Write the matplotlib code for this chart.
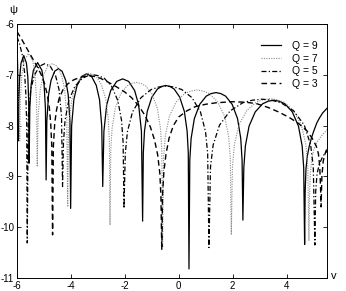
import matplotlib
matplotlib.use("Agg")
import matplotlib.pyplot as plt

plt.rcParams['font.family'] = ['Liberation Sans', 'DejaVu Sans']
plt.rcParams['axes.unicode_minus'] = False

# ---- data: (v, psi) points per series ----
v_q9 = [-6.0, -5.98, -5.965, -5.95,
        -5.934, -5.902, -5.85, -5.75, -5.65, -5.598, -5.566, -5.55,
        -5.525, -5.474, -5.392, -5.235, -5.078, -4.996, -4.945, -4.92,
        -4.893, -4.829, -4.738, -4.6015, -4.465, -4.3285, -4.192, -4.101, -4.037, -4.01,
        -3.974, -3.891, -3.772, -3.594, -3.415, -3.236, -3.058, -2.939, -2.856, -2.82,
        -2.776, -2.672, -2.524, -2.302, -2.08, -1.858, -1.636, -1.488, -1.384, -1.34,
        -1.314, -1.271, -1.168, -0.996, -0.790, -0.635, -0.48, -0.325, -0.170, 0.036, 0.208, 0.311, 0.354, 0.38,
        0.41, 0.46, 0.58, 0.78, 1.02, 1.20, 1.38, 1.56, 1.74, 1.98, 2.18, 2.30, 2.35, 2.38,
        2.414, 2.472, 2.609, 2.838, 3.113, 3.319, 3.525, 3.731, 3.937, 4.212, 4.441, 4.578, 4.636, 4.67,
        4.69, 4.72, 4.77, 4.84, 4.92, 5.0, 5.12, 5.22, 5.34, 5.5]
p_q9 = [-6.3, -6.8, -7.5, -8.3,
        -7.52, -7.05, -6.77, -6.62, -6.77, -7.05, -7.52, -8.74,
        -7.66, -7.19, -6.91, -6.76, -6.91, -7.19, -7.66, -9.07,
        -7.91, -7.39, -7.11, -6.93, -6.88, -6.93, -7.11, -7.39, -7.91, -9.63,
        -8.01, -7.49, -7.21, -7.03, -6.98, -7.03, -7.21, -7.49, -8.01, -9.2,
        -8.11, -7.59, -7.31, -7.13, -7.08, -7.13, -7.31, -7.59, -8.11, -9.88,
        -8.54, -8.11, -7.72, -7.44, -7.28, -7.23, -7.21, -7.23, -7.28, -7.44, -7.72, -8.11, -8.54, -10.82,
        -8.68, -8.25, -7.86, -7.58, -7.42, -7.37, -7.35, -7.37, -7.42, -7.58, -7.86, -8.25, -8.68, -9.86,
        -8.83, -8.40, -8.01, -7.73, -7.57, -7.52, -7.50, -7.52, -7.57, -7.73, -8.01, -8.40, -8.83, -10.34,
        -9.3, -8.85, -8.6, -8.41, -8.25, -8.12, -7.95, -7.85, -7.75, -7.66]

v_q7 = [-6.0, -5.95, -5.9,
        -5.874, -5.822, -5.7375, -5.575, -5.4125, -5.328, -5.276, -5.25,
        -5.216, -5.137, -5.024, -4.8545, -4.685, -4.5155, -4.346, -4.233, -4.154, -4.12,
        -4.096, -4.057, -3.963, -3.806, -3.618, -3.476, -3.335, -3.194, -3.052, -2.864, -2.707, -2.613, -2.574, -2.55,
        -2.521, -2.472, -2.355, -2.16, -1.926, -1.750, -1.575, -1.400, -1.224, -0.99, -0.795, -0.678, -0.629, -0.6,
        -0.562, -0.498, -0.345, -0.09, 0.216, 0.446, 0.675, 0.905, 1.134, 1.44, 1.695, 1.848, 1.912, 1.95,
        1.993, 2.065, 2.238, 2.526, 2.872, 3.131, 3.39, 3.649, 3.908, 4.254, 4.542, 4.715, 4.787, 4.83,
        4.85, 4.88, 4.94, 5.02, 5.12, 5.3, 5.5]
p_q7 = [-6.6, -6.9, -8.3,
        -7.48, -7.01, -6.73, -6.58, -6.73, -7.01, -7.48, -8.81,
        -7.81, -7.29, -7.01, -6.83, -6.78, -6.83, -7.01, -7.29, -7.81, -9.6,
        -8.30, -7.87, -7.48, -7.20, -7.04, -6.99, -6.97, -6.99, -7.04, -7.20, -7.48, -7.87, -8.30, -9.96,
        -8.48, -8.05, -7.66, -7.38, -7.22, -7.17, -7.15, -7.17, -7.22, -7.38, -7.66, -8.05, -8.48, -10.4,
        -8.63, -8.20, -7.81, -7.53, -7.37, -7.32, -7.30, -7.32, -7.37, -7.53, -7.81, -8.20, -8.63, -10.15,
        -8.80, -8.37, -7.98, -7.70, -7.54, -7.49, -7.47, -7.49, -7.54, -7.70, -7.98, -8.37, -8.80, -10.27,
        -9.4, -8.95, -8.65, -8.45, -8.33, -8.2, -8.08]

v_q5 = [-6.0, -5.9, -5.8, -5.72, -5.67, -5.64, -5.62,
        -5.581, -5.489, -5.358, -5.1615, -4.965, -4.7685, -4.572, -4.441, -4.349, -4.31,
        -4.276, -4.219, -4.082, -3.854, -3.580, -3.375, -3.17, -2.965, -2.760, -2.486, -2.258, -2.121, -2.064, -2.03,
        -1.983, -1.904, -1.715, -1.40, -1.022, -0.739, -0.455, -0.172, 0.112, 0.49, 0.805, 0.994, 1.073, 1.12,
        1.179, 1.277, 1.513, 1.906, 2.378, 2.731, 3.085, 3.439, 3.792, 4.264, 4.657, 4.893, 4.991, 5.05,
        5.08, 5.13, 5.22, 5.35, 5.5]
p_q5 = [-6.25, -6.4, -6.62, -6.95, -7.4, -8.0, -10.31,
        -7.81, -7.29, -7.01, -6.83, -6.78, -6.83, -7.01, -7.29, -7.81, -9.2,
        -8.33, -7.90, -7.51, -7.23, -7.07, -7.02, -7.0, -7.02, -7.07, -7.23, -7.51, -7.90, -8.33, -9.63,
        -8.55, -8.12, -7.73, -7.45, -7.29, -7.24, -7.22, -7.24, -7.29, -7.45, -7.73, -8.12, -8.55, -10.4,
        -8.81, -8.38, -7.99, -7.71, -7.55, -7.50, -7.48, -7.50, -7.55, -7.71, -7.99, -8.38, -8.81, -10.35,
        -9.3, -8.95, -8.75, -8.6, -8.5]

v_q3 = [-6.0, -5.85, -5.7, -5.55, -5.4, -5.25, -5.1, -4.98, -4.88, -4.8, -4.75, -4.71, -4.68,
        -4.65, -4.6, -4.53, -4.44, -4.3, -4.12, -3.9, -3.66, -3.4, -3.15, -2.9, -2.6, -2.3, -2.0,
        -1.75, -1.5, -1.25, -1.05, -0.9, -0.78, -0.7, -0.66, -0.63,
        -0.6, -0.55, -0.47, -0.36, -0.2, 0.0, 0.3, 0.6, 1.0, 1.4, 2.0, 2.5, 2.9, 3.3, 3.7,
        4.1, 4.45, 4.75, 4.95, 5.1, 5.18, 5.23, 5.26, 5.28, 5.31, 5.36, 5.43, 5.5]
p_q3 = [-6.15, -6.28, -6.42, -6.56, -6.7, -6.84, -7.0, -7.17, -7.38, -7.65, -7.95, -8.4, -10.15,
        -8.4, -7.95, -7.68, -7.47, -7.3, -7.18, -7.1, -7.05, -7.02, -7.03, -7.07, -7.15, -7.24, -7.34,
        -7.45, -7.6, -7.8, -8.03, -8.28, -8.58, -8.95, -9.4, -10.45,
        -9.35, -8.9, -8.55, -8.25, -8.0, -7.83, -7.71, -7.63, -7.58, -7.55, -7.53, -7.54, -7.57, -7.64, -7.73,
        -7.84, -7.96, -8.1, -8.25, -8.4, -8.55, -8.8, -9.2, -9.6, -9.0, -8.7, -8.55, -8.45]

labels = ["Q = 9", "Q = 7", "Q = 5", "Q = 3"]
x_ticks = [-6, -4, -2, 0, 2, 4]
y_ticks = [-11, -10, -9, -8, -7, -6]

fig = plt.figure(figsize=(3.46, 2.91), dpi=100)
ax = fig.add_axes([17/346, 1 - 278/291, 310/346, 254/291])

ax.plot(v_q9, p_q9, color='black', lw=0.9, ls='-', label=labels[0])
ax.plot(v_q7, p_q7, color='#8a8a8a', lw=0.8, ls=(0, (1, 1.2)), label=labels[1])
ax.plot(v_q5, p_q5, color='black', lw=0.9, ls=(0, (4, 1.8, 1, 1.8)), label=labels[2])
ax.plot(v_q3, p_q3, color='black', lw=1.0, ls=(0, (4, 2.5)), label=labels[3])

ax.set_xlim(-6, 5.5)
ax.set_ylim(-11, -6)
ax.set_xticks(x_ticks)
ax.set_yticks(y_ticks)
ax.tick_params(direction='in', top=True, right=True, labelsize=7, length=3, width=0.6, pad=2)
for s in ax.spines.values():
    s.set_linewidth(0.7)

leg = ax.legend(loc='upper right', frameon=False, fontsize=7.5, handlelength=2.0,
                handletextpad=1.0, labelspacing=0.25, bbox_to_anchor=(1.0, 0.97))

fig.text(13/346, 1 - 10/291, "ψ", fontsize=8, ha='center', va='center')
fig.text(334/346, 1 - 276/291, "v", fontsize=8, ha='center', va='center')

fig.savefig("out.png", dpi=100)
